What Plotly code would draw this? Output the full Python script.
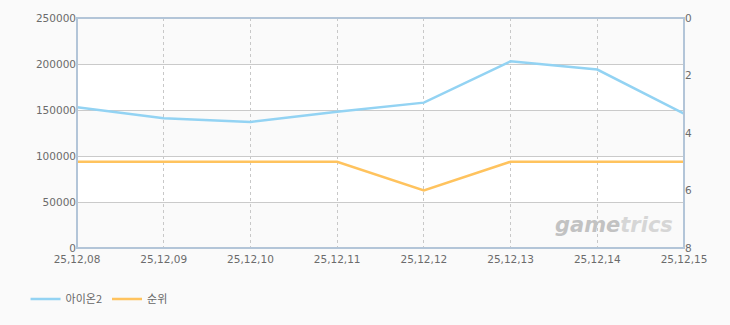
import plotly.graph_objects as go

dates = ["25,12,08", "25,12,09", "25,12,10", "25,12,11", "25,12,12", "25,12,13", "25,12,14", "25,12,15"]
aion2 = [153000, 141000, 137000, 148000, 158000, 203000, 194000, 146000]
rank = [5, 5, 5, 5, 6, 5, 5, 5]
left_ticks = [0, 50000, 100000, 150000, 200000, 250000]
right_ticks = [0, 2, 4, 6, 8]

BLUE = "#93d3f3"
ORANGE = "#ffc35e"
TICK_FONT = dict(family="DejaVu Sans, Liberation Sans, sans-serif", size=10.5, color="#6b6b6b")

fig = go.Figure()
fig.add_trace(go.Scatter(x=dates, y=aion2, name="아이온2", mode="lines",
                         line=dict(color=BLUE, width=2.5), yaxis="y"))
fig.add_trace(go.Scatter(x=dates, y=rank, name="순위", mode="lines",
                         line=dict(color=ORANGE, width=2.5), yaxis="y2"))

# alternating bands
for i in range(0, len(left_ticks) - 1):
    if i % 2 == 1:
        fig.add_shape(type="rect", xref="paper", yref="y", x0=0, x1=1,
                      y0=left_ticks[i], y1=left_ticks[i + 1],
                      fillcolor="#ffffff", line=dict(width=0), layer="below")

# frame
fig.add_shape(type="rect", xref="paper", yref="paper", x0=0, x1=1, y0=0, y1=1,
              line=dict(color="#b3c5d8", width=2), layer="above")

fig.add_annotation(xref="paper", yref="paper", x=0.985, y=0.04, xanchor="right", yanchor="bottom",
                   text="<b><i>game<span style='color:#d6d6d6'>trics</span></i></b>",
                   showarrow=False,
                   font=dict(family="DejaVu Sans, sans-serif", size=21, color="#c2c2c2"))

fig.update_layout(
    width=730, height=325,
    margin=dict(l=77, r=46, t=16, b=77),
    paper_bgcolor="#fafafa", plot_bgcolor="#fafafa",
    showlegend=True,
    legend=dict(orientation="h", xref="container", yref="container",
                x=0.035, y=0.08, xanchor="left", yanchor="middle",
                font=dict(family="Noto Sans CJK KR, sans-serif", size=11, color="#666666"),
                bgcolor="rgba(0,0,0,0)", itemwidth=30, traceorder="normal"),
    xaxis=dict(type="category", categoryorder="array", categoryarray=dates,
               range=[0, len(dates) - 1], showgrid=True, gridcolor="#c8c8c8",
               griddash="3px,3px", gridwidth=1, tickfont=TICK_FONT, ticks="",
               ticklabelstandoff=3,
               showline=False, zeroline=False, fixedrange=True),
    yaxis=dict(range=[0, 250000], tickvals=left_ticks, ticktext=[str(v) for v in left_ticks],
               showgrid=True, gridcolor="#cacaca", gridwidth=1, zeroline=False,
               tickfont=TICK_FONT, ticks="", showline=False, fixedrange=True),
    yaxis2=dict(range=[8, 0], tickvals=right_ticks, ticktext=[str(v) for v in right_ticks],
                overlaying="y", side="right", showgrid=False, zeroline=False,
                tickfont=TICK_FONT, ticks="", showline=False, fixedrange=True),
)

fig.write_html("out.html")
